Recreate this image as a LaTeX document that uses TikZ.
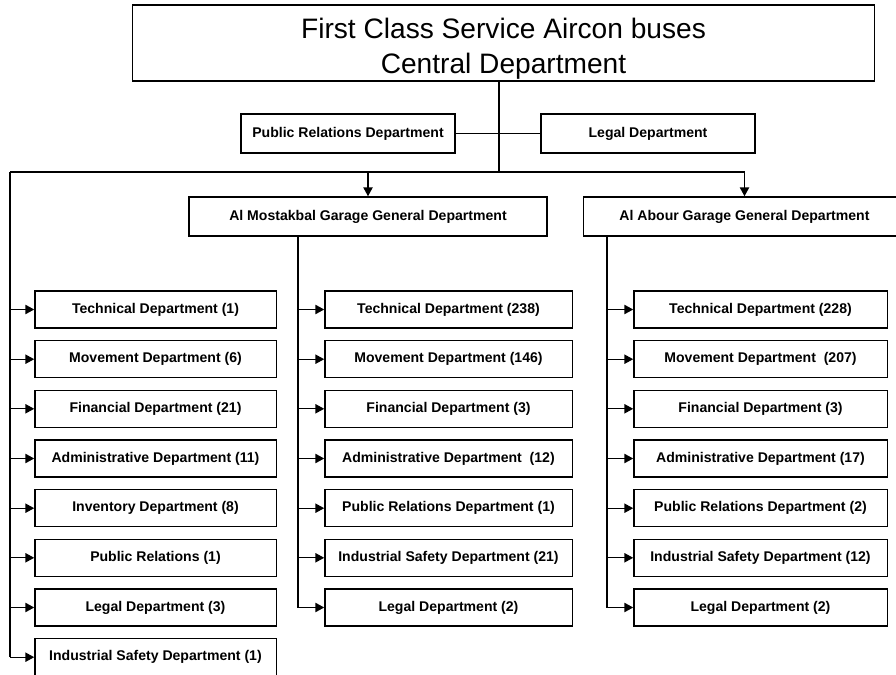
\documentclass[tikz,border=0pt]{standalone}
\usepackage{fontspec}
\setmainfont{Liberation Sans}
\usetikzlibrary{arrows.meta}
\begin{document}
\begin{tikzpicture}[x=0.025cm,y=-0.025cm,line width=0.9pt,
  box/.style={shape=rectangle,draw,fill=white,inner sep=0pt,minimum height=0.93cm,font=\fontsize{10}{12}\bfseries\selectfont},
  leftbox/.style={box,minimum width=6.03cm},
  midbox/.style={box,minimum width=6.18cm},
  rightbox/.style={box,minimum width=6.33cm},
  arr/.style={-{Triangle[length=2.2mm,width=2.3mm]}}]
\useasboundingbox (0,0) rectangle (896,675);
% head office and its two side offices
\node[shape=rectangle,draw,inner sep=0pt,minimum width=18.53cm,minimum height=1.9cm,align=center,font=\fontsize{20}{25}\selectfont] (central) at (503.5,43) {\rule{0pt}{23pt}First Class Service Aircon buses\\Central Department};
\node[box,minimum width=5.35cm,minimum height=0.98cm] (pr) at (348,133.5) {Public Relations Department};
\node[box,minimum width=5.35cm,minimum height=0.98cm] (legal) at (648,133.5) {Legal Department};
% the two garages
\node[box,minimum width=8.95cm,minimum height=0.98cm] (mostakbal) at (368,216.5) {Al Mostakbal Garage General Department};
\node[box,minimum width=8.03cm,minimum height=0.98cm] (abour) at (744.5,216.5) {Al Abour Garage General Department};
% central departments
\node[leftbox] (l1) at (155.5,309.5) {Technical Department (1)};
\node[leftbox] (l2) at (155.5,359.2) {Movement Department (6)};
\node[leftbox] (l3) at (155.5,408.8) {Financial Department (21)};
\node[leftbox] (l4) at (155.5,458.5) {Administrative Department (11)};
\node[leftbox] (l5) at (155.5,508.2) {Inventory Department (8)};
\node[leftbox] (l6) at (155.5,557.8) {Public Relations (1)};
\node[leftbox] (l7) at (155.5,607.5) {Legal Department (3)};
\node[leftbox] (l8) at (155.5,657.2) {Industrial Safety Department (1)};
% Al Mostakbal departments
\node[midbox] (m1) at (448.5,309.5) {Technical Department (238)};
\node[midbox] (m2) at (448.5,359.2) {Movement Department (146)};
\node[midbox] (m3) at (448.5,408.8) {Financial Department (3)};
\node[midbox] (m4) at (448.5,458.5) {Administrative Department~ (12)};
\node[midbox] (m5) at (448.5,508.2) {Public Relations Department (1)};
\node[midbox] (m6) at (448.5,557.8) {Industrial Safety Department (21)};
\node[midbox] (m7) at (448.5,607.5) {Legal Department (2)};
% Al Abour departments
\node[rightbox] (r1) at (760.5,309.5) {Technical Department (228)};
\node[rightbox] (r2) at (760.5,359.2) {Movement Department~ (207)};
\node[rightbox] (r3) at (760.5,408.8) {Financial Department (3)};
\node[rightbox] (r4) at (760.5,458.5) {Administrative Department (17)};
\node[rightbox] (r5) at (760.5,508.2) {Public Relations Department (2)};
\node[rightbox] (r6) at (760.5,557.8) {Industrial Safety Department (12)};
\node[rightbox] (r7) at (760.5,607.5) {Legal Department (2)};
% trunk lines
\coordinate (hub) at (499,172);
\coordinate (ltrunk) at (10,172);
\coordinate (mtrunk) at (298,236);
\coordinate (rtrunk) at (607,236);
\draw (hub |- central.south) to (hub);
\draw (pr.east) to (legal.west);
\draw (ltrunk) to (ltrunk -| abour.north);
\draw[arr] (ltrunk -| mostakbal.north) to (mostakbal.north);
\draw[arr] (ltrunk -| abour.north) to (abour.north);
\draw (ltrunk) to (ltrunk |- l8.west);
\draw (mtrunk) to (mtrunk |- m7.west);
\draw (rtrunk) to (rtrunk |- r7.west);
% branches into the departments
\draw[arr] (ltrunk |- l1.west) to (l1.west);
\draw[arr] (ltrunk |- l2.west) to (l2.west);
\draw[arr] (ltrunk |- l3.west) to (l3.west);
\draw[arr] (ltrunk |- l4.west) to (l4.west);
\draw[arr] (ltrunk |- l5.west) to (l5.west);
\draw[arr] (ltrunk |- l6.west) to (l6.west);
\draw[arr] (ltrunk |- l7.west) to (l7.west);
\draw[arr] (ltrunk |- l8.west) to (l8.west);
\draw[arr] (mtrunk |- m1.west) to (m1.west);
\draw[arr] (mtrunk |- m2.west) to (m2.west);
\draw[arr] (mtrunk |- m3.west) to (m3.west);
\draw[arr] (mtrunk |- m4.west) to (m4.west);
\draw[arr] (mtrunk |- m5.west) to (m5.west);
\draw[arr] (mtrunk |- m6.west) to (m6.west);
\draw[arr] (mtrunk |- m7.west) to (m7.west);
\draw[arr] (rtrunk |- r1.west) to (r1.west);
\draw[arr] (rtrunk |- r2.west) to (r2.west);
\draw[arr] (rtrunk |- r3.west) to (r3.west);
\draw[arr] (rtrunk |- r4.west) to (r4.west);
\draw[arr] (rtrunk |- r5.west) to (r5.west);
\draw[arr] (rtrunk |- r6.west) to (r6.west);
\draw[arr] (rtrunk |- r7.west) to (r7.west);
\end{tikzpicture}
\end{document}
